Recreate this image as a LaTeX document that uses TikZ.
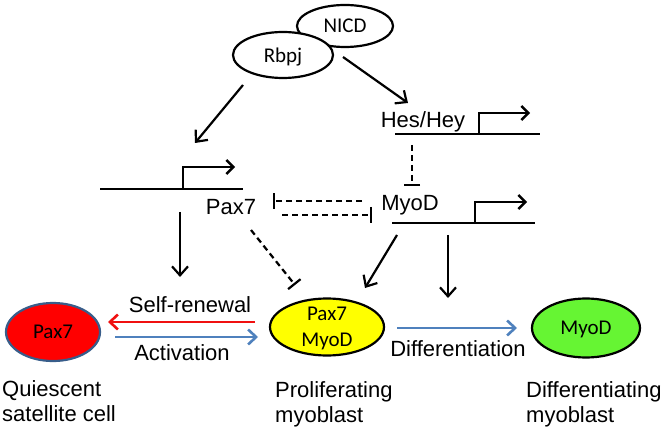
\documentclass[tikz,border=0pt]{standalone}
\usepackage{fontspec}
\setmainfont{Liberation Sans}
\newfontfamily\carl{Carlito}
\usetikzlibrary{arrows.meta,shapes.geometric}
\definecolor{arrblue}{HTML}{4F81BD}
\definecolor{arrred}{HTML}{F01010}
\definecolor{ovalred}{HTML}{FF0000}
\definecolor{ovalredborder}{HTML}{385D8A}
\definecolor{ovalyellow}{HTML}{FFFF00}
\definecolor{ovalgreen}{HTML}{66F533}
\begin{document}
\begin{tikzpicture}[x=1pt,y=-1pt,
  lbl/.style={font=\fontsize{22}{25}\selectfont, inner sep=0pt, anchor=base},
  twoline/.style={font=\fontsize{22}{25}\selectfont, inner sep=0pt, anchor=west, align=left},
  oval/.style={ellipse, draw, line width=2.2pt, inner sep=0pt, text depth=0pt,
               font=\carl\fontsize{21}{26}\selectfont, align=center},
  act/.style={line width=2.2pt, -{Straight Barb[length=9pt,width=16pt]}},
  colact/.style={line width=2.6pt, -{Straight Barb[length=8pt,width=15pt]}},
  inh/.style={line width=2.2pt, dash pattern=on 6pt off 4pt, -{Bar[width=16pt]}},
  gene/.style={line width=2.6pt},
  prom/.style={line width=2.4pt, -{Straight Barb[length=7pt,width=14pt]}}
]
\useasboundingbox (0,0) rectangle (666,430);

% Notch complex
\node[oval, fill=white, minimum width=96pt, minimum height=42pt] (nicd) at (345,26) {NICD};
\node[oval, fill=white, minimum width=100pt, minimum height=46pt] (rbpj) at (283,55) {Rbpj};

% gene lines
\coordinate (p7a) at (100,189); \coordinate (p7b) at (243,189);
\coordinate (p7tss) at (183,189);
\draw[gene] (p7a) -- (p7b);
\draw[prom] (p7tss) -- ++(0,-22) -- ++(52,0);

\coordinate (hesa) at (395,134); \coordinate (hesb) at (540,134);
\coordinate (hestss) at (479,134);
\draw[gene] (hesa) -- (hesb);
\draw[prom] (hestss) -- ++(0,-21) -- ++(51,0);

\coordinate (myoa) at (392,223); \coordinate (myob) at (535,223);
\coordinate (myotss) at (475,223);
\draw[gene] (myoa) -- (myob);
\draw[prom] (myotss) -- ++(0,-21) -- ++(52,0);

% gene labels
\node[lbl] (hes) at (423,128) {Hes/Hey};
\node[lbl] (myod) at (410,211) {MyoD};
\node[lbl] (pax7) at (231,215) {Pax7};

% notch arrows
\coordinate (r1) at (243,85); \coordinate (r2) at (195,143);
\draw[act] (r1) -- (r2);
\coordinate (n1) at (343,57); \coordinate (n2) at (408,103);
\draw[act] (n1) -- (n2);

% Hes/Hey -| MyoD
\coordinate (h1) at (412,145); \coordinate (h2) at (412,186);
\draw[inh] (h1) -- (h2);

% mutual inhibition
\coordinate (m1) at (362,201); \coordinate (m2) at (273,201);
\draw[inh] (m1) -- (m2);
\coordinate (q1) at (282,215); \coordinate (q2) at (372,215);
\draw[inh] (q1) -- (q2);

% cells
\node[oval, fill=ovalred, draw=ovalredborder, minimum width=94pt, minimum height=58pt] (quiet) at (53,332) {Pax7};
\node[oval, fill=ovalyellow, minimum width=114pt, minimum height=57pt] (prolif) at (327,327) {Pax7\\MyoD};
\node[oval, fill=ovalgreen, minimum width=108pt, minimum height=59pt] (differ) at (586,328) {MyoD};

% arrows down to cells
\coordinate (d1) at (180,212); \coordinate (d2) at (180,277);
\draw[act] (d1) -- (d2);
\coordinate (e1) at (251,230); \coordinate (e2) at (295,285);
\draw[inh] (e1) -- (e2);
\coordinate (f1) at (397,235); \coordinate (f2) at (365,288);
\draw[act] (f1) -- (f2);
\coordinate (g1) at (448,235); \coordinate (g2) at (448,298);
\draw[act] (g1) -- (g2);

% transitions
\coordinate (sr1) at (255,322); \coordinate (sr2) at (108,322);
\draw[colact, draw=arrred] (sr1) -- (sr2);
\coordinate (ac1) at (115,337); \coordinate (ac2) at (258,337);
\draw[colact, draw=arrblue] (ac1) -- (ac2);
\coordinate (df1) at (397,328); \coordinate (df2) at (517,328);
\draw[colact, draw=arrblue] (df1) -- (df2);

\node[lbl] (selfr) at (190,312) {Self-renewal};
\node[lbl] (activ) at (182,360) {Activation};
\node[lbl] (difft) at (458,356) {Differentiation};

% cell names
\node[twoline] (qsc) at (2,401.5) {Quiescent\\satellite cell};
\node[twoline] (pmb) at (275,404) {Proliferating\\myoblast};
\node[twoline] (dmb) at (526,404) {Differentiating\\myoblast};
\end{tikzpicture}
\end{document}
